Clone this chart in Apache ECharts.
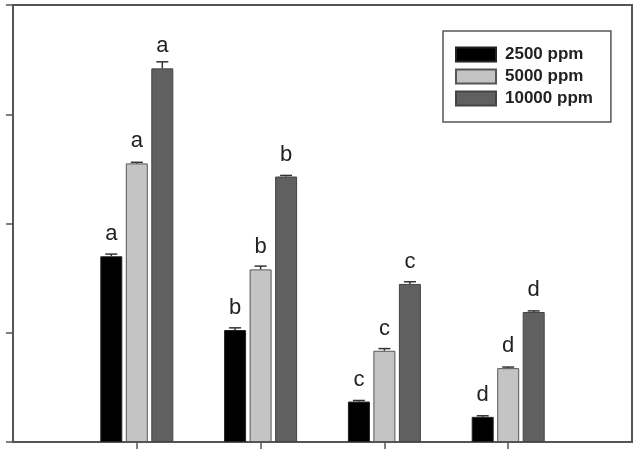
<!DOCTYPE html>
<html>
<head>
<meta charset="utf-8">
<script src="https://cdn.jsdelivr.net/npm/echarts@6/dist/echarts.min.js"></script>
<style>html,body{margin:0;padding:0;background:#fff}#c{width:639px;height:449px}</style>
</head>
<body>
<div id="c"></div>
<script>
// Data
const categories = ['', 'G1', 'G2', 'G3', 'G4', ''];
const seriesNames = ['2500 ppm', '5000 ppm', '10000 ppm'];
const v2500  = [null, 1.70, 1.025, 0.37, 0.23, null];
const v5000  = [null, 2.55, 1.58, 0.835, 0.676, null];
const v10000 = [null, 3.42, 2.43, 1.447, 1.19, null];
const e2500  = [null, 0.02, 0.02, 0.01, 0.01, null];
const e5000  = [null, 0.01, 0.03, 0.02, 0.01, null];
const e10000 = [null, 0.06, 0.01, 0.02, 0.01, null];
const l2500  = ['', 'a', 'b', 'c', 'd', ''];
const l5000  = ['', 'a', 'b', 'c', 'd', ''];
const l10000 = ['', 'a', 'b', 'c', 'd', ''];
const yTicks = [0, 1, 2, 3, 4];

const values = [v2500, v5000, v10000];
const errors = [e2500, e5000, e10000];
const letters = [l2500, l5000, l10000];
const colors = ['#000000', '#c4c4c4', '#606060'];
const borders = ['#222222', '#555555', '#444444'];
const BAR_W = 22, GAP = 3.5;

const chart = echarts.init(document.getElementById('c'), null, {renderer: 'canvas'});
const series = [];
values.forEach((vals, si) => {
  series.push({
    name: seriesNames[si],
    type: 'bar',
    data: vals,
    barWidth: BAR_W,
    barGap: (GAP / BAR_W * 100) + '%',
    itemStyle: {color: colors[si], borderColor: borders[si], borderWidth: 1},
    label: {
      show: true, position: 'top', distance: 11,
      fontFamily: 'Liberation Sans', fontSize: 22, color: '#222',
      formatter: p => letters[si][p.dataIndex] || ''
    },
    z: 2
  });
});
values.forEach((vals, si) => {
  const pts = [];
  vals.forEach((v, i) => { if (v != null) pts.push([i, v, errors[si][i]]); });
  series.push({
    type: 'custom',
    silent: true,
    coordinateSystem: 'cartesian2d',
    encode: {x: 0, y: 1},
    data: pts,
    renderItem: (params, api) => {
      const i = api.value(0), v = api.value(1), e = api.value(2);
      const off = (si - 1) * (BAR_W + GAP);
      const top = api.coord([i, v + e]);
      const base = api.coord([i, v]);
      const x = top[0] + off;
      return {
        type: 'group',
        children: [
          {type: 'line', shape: {x1: x, y1: base[1], x2: x, y2: top[1]}, style: {stroke: '#333', lineWidth: 1.5}},
          {type: 'line', shape: {x1: x - 6, y1: top[1], x2: x + 6, y2: top[1]}, style: {stroke: '#333', lineWidth: 1.5}}
        ]
      };
    },
    z: 5
  });
});

chart.setOption({
  animation: false,
  backgroundColor: '#fff',
  grid: {left: 13, top: 5, right: 7, bottom: 7, show: true, borderColor: '#555', borderWidth: 2, backgroundColor: 'transparent'},
  legend: {
    data: seriesNames,
    orient: 'vertical',
    left: 443, top: 31,
    padding: [15, 18, 15, 12],
    itemWidth: 40, itemHeight: 14, itemGap: 5,
    borderColor: '#555', borderWidth: 1.5, borderRadius: 0,
    textStyle: {fontFamily: 'Liberation Sans', fontSize: 17, fontWeight: 'bold', color: '#222', padding: [0, 0, 0, 4]},
    icon: 'rect'
  },
  xAxis: {
    type: 'category', data: categories, boundaryGap: false,
    axisLine: {lineStyle: {color: '#555', width: 2}},
    axisTick: {show: true, inside: false, length: 7, lineStyle: {color: '#555', width: 1.5},
      interval: (idx) => idx >= 1 && idx <= 4},
    axisLabel: {show: false},
    splitLine: {show: false}
  },
  yAxis: {
    type: 'value', min: yTicks[0], max: yTicks[yTicks.length - 1], interval: 1,
    axisLine: {show: true, lineStyle: {color: '#555', width: 2}},
    axisTick: {show: true, inside: false, length: 7, lineStyle: {color: '#555', width: 1.5}},
    axisLabel: {show: false},
    splitLine: {show: false}
  },
  series: series
});
</script>
</body>
</html>
